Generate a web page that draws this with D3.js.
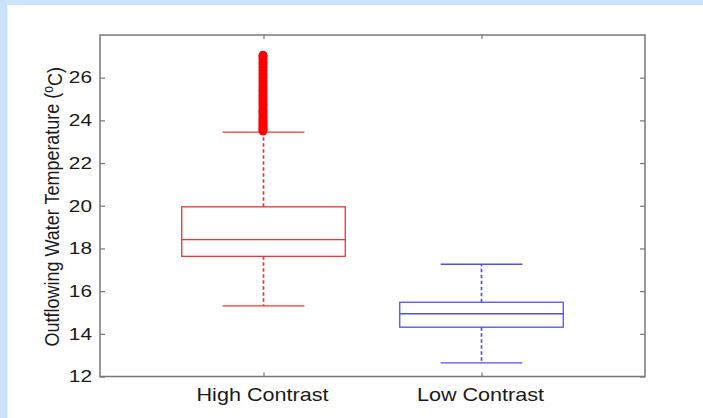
<!DOCTYPE html>
<html>
<head>
<meta charset="utf-8">
<script src="https://cdn.jsdelivr.net/npm/d3@7"></script>
<style>
  html, body { margin: 0; padding: 0; background: #ffffff; }
  svg { display: block; }
  text { font-family: "Liberation Sans", Arial, sans-serif; fill: #1a1a1a; }
</style>
</head>
<body>
<script>
// Box plot of outflowing water temperature for two contrast groups
const categories = ["High Contrast", "Low Contrast"];
const positions = [1, 2];
const q1 = [17.63, 14.31];
const medians = [18.41, 14.94];
const q3 = [19.95, 15.48];
const whiskerLow = [15.31, 12.64];
const whiskerHigh = [23.45, 17.26];
const colors = ["#ee3333", "#5050e6"];
// outliers above the upper whisker of the High Contrast group
const outliersHigh = [23.5, 23.58, 23.66, 23.75, 23.83, 23.92, 24.0, 24.1, 24.2, 24.31,
  24.42, 24.5, 24.63, 24.75, 24.86, 24.98, 25.1, 25.21, 25.35, 25.46,
  25.58, 25.7, 25.83, 25.95, 26.08, 26.2, 26.34, 26.47, 26.6, 26.72,
  26.85, 26.97, 27.05];
const yTicks = [12, 14, 16, 18, 20, 22, 24, 26];

const W = 703, H = 418;
const svg = d3.select("body").append("svg").attr("width", W).attr("height", H);

// page background with light blue border strips
svg.append("rect").attr("x", 0).attr("y", 0).attr("width", W).attr("height", H).attr("fill", "#ffffff");
svg.append("rect").attr("x", 0).attr("y", 0).attr("width", W).attr("height", 5).attr("fill", "#cce3fb");
svg.append("rect").attr("x", 0).attr("y", 0).attr("width", 7.5).attr("height", H).attr("fill", "#cce3fb");

const L = 100, R = 645, T = 35, B = 376.5;
const x = d3.scaleLinear().domain([0.25, 2.75]).range([L, R]);
const y = d3.scaleLinear().domain([12, 28]).range([B, T]);
const boxHalf = 0.375, capHalf = 0.1875;

const frame = "#777777";
const axisL = svg.append("g").attr("transform", `translate(${L},0)`)
  .call(d3.axisRight(y).tickValues(yTicks).tickSize(5).tickFormat(""));
const axisR = svg.append("g").attr("transform", `translate(${R},0)`)
  .call(d3.axisLeft(y).tickValues(yTicks).tickSize(5).tickFormat(""));
const axisT = svg.append("g").attr("transform", `translate(0,${T})`)
  .call(d3.axisBottom(x).tickValues(positions).tickSize(4).tickFormat(""));
const axisB = svg.append("g").attr("transform", `translate(0,${B})`)
  .call(d3.axisTop(x).tickValues(positions).tickSize(4).tickFormat(""));
[axisL, axisR, axisT, axisB].forEach(g => {
  g.select(".domain").remove();
  g.selectAll("line").attr("stroke", frame).attr("stroke-width", 1.2);
});
svg.append("rect").attr("x", L).attr("y", T).attr("width", R - L).attr("height", B - T)
  .attr("fill", "none").attr("stroke", frame).attr("stroke-width", 1.5);

// y tick labels
svg.append("g").selectAll("text").data(yTicks).join("text")
  .attr("transform", d => `translate(${L - 8},${y(d)}) scale(1.3,1)`)
  .attr("text-anchor", "end").attr("dy", "0.36em")
  .style("font-size", "16px").text(d => d);

// x category labels
svg.append("g").selectAll("text").data(categories).join("text")
  .attr("transform", (d, i) => `translate(${x(positions[i]) - 1},401) scale(1.2,1)`)
  .attr("text-anchor", "middle").style("font-size", "18px").text(d => d);

// y axis title
const yt = svg.append("text")
  .attr("transform", `translate(59,${(T + B) / 2 + 1}) scale(1.15,1) rotate(-90)`)
  .attr("text-anchor", "middle").style("font-size", "18px");
yt.append("tspan").text("Outflowing Water Temperature (");
yt.append("tspan").attr("dy", "-0.45em").style("font-size", "12px").text("o");
yt.append("tspan").attr("dy", "0.45em").text("C)");

// boxes
const groups = svg.append("g").selectAll("g").data(categories).join("g");
groups.each(function (d, i) {
  const g = d3.select(this);
  const c = colors[i], p = positions[i];
  const sw = 1.3;
  // whiskers
  g.append("line").attr("x1", x(p)).attr("x2", x(p)).attr("y1", y(q3[i])).attr("y2", y(whiskerHigh[i]))
    .attr("stroke", c).attr("stroke-width", 1.7).attr("stroke-dasharray", "3.5,2.5");
  g.append("line").attr("x1", x(p)).attr("x2", x(p)).attr("y1", y(q1[i])).attr("y2", y(whiskerLow[i]))
    .attr("stroke", c).attr("stroke-width", 1.7).attr("stroke-dasharray", "3.5,2.5");
  // caps
  [whiskerHigh[i], whiskerLow[i]].forEach(v => {
    g.append("line").attr("x1", x(p - capHalf)).attr("x2", x(p + capHalf)).attr("y1", y(v)).attr("y2", y(v))
      .attr("stroke", c).attr("stroke-width", sw);
  });
  // box
  g.append("rect").attr("x", x(p - boxHalf)).attr("y", y(q3[i]))
    .attr("width", x(p + boxHalf) - x(p - boxHalf)).attr("height", y(q1[i]) - y(q3[i]))
    .attr("fill", "none").attr("stroke", c).attr("stroke-width", sw);
  // median
  g.append("line").attr("x1", x(p - boxHalf)).attr("x2", x(p + boxHalf))
    .attr("y1", y(medians[i])).attr("y2", y(medians[i]))
    .attr("stroke", c).attr("stroke-width", sw);
});

// outliers
svg.append("g").selectAll("circle").data(outliersHigh).join("circle")
  .attr("cx", x(positions[0]) - 0.5).attr("cy", d => y(d)).attr("r", 4.5)
  .attr("fill", "#ff0000");
</script>
</body>
</html>
